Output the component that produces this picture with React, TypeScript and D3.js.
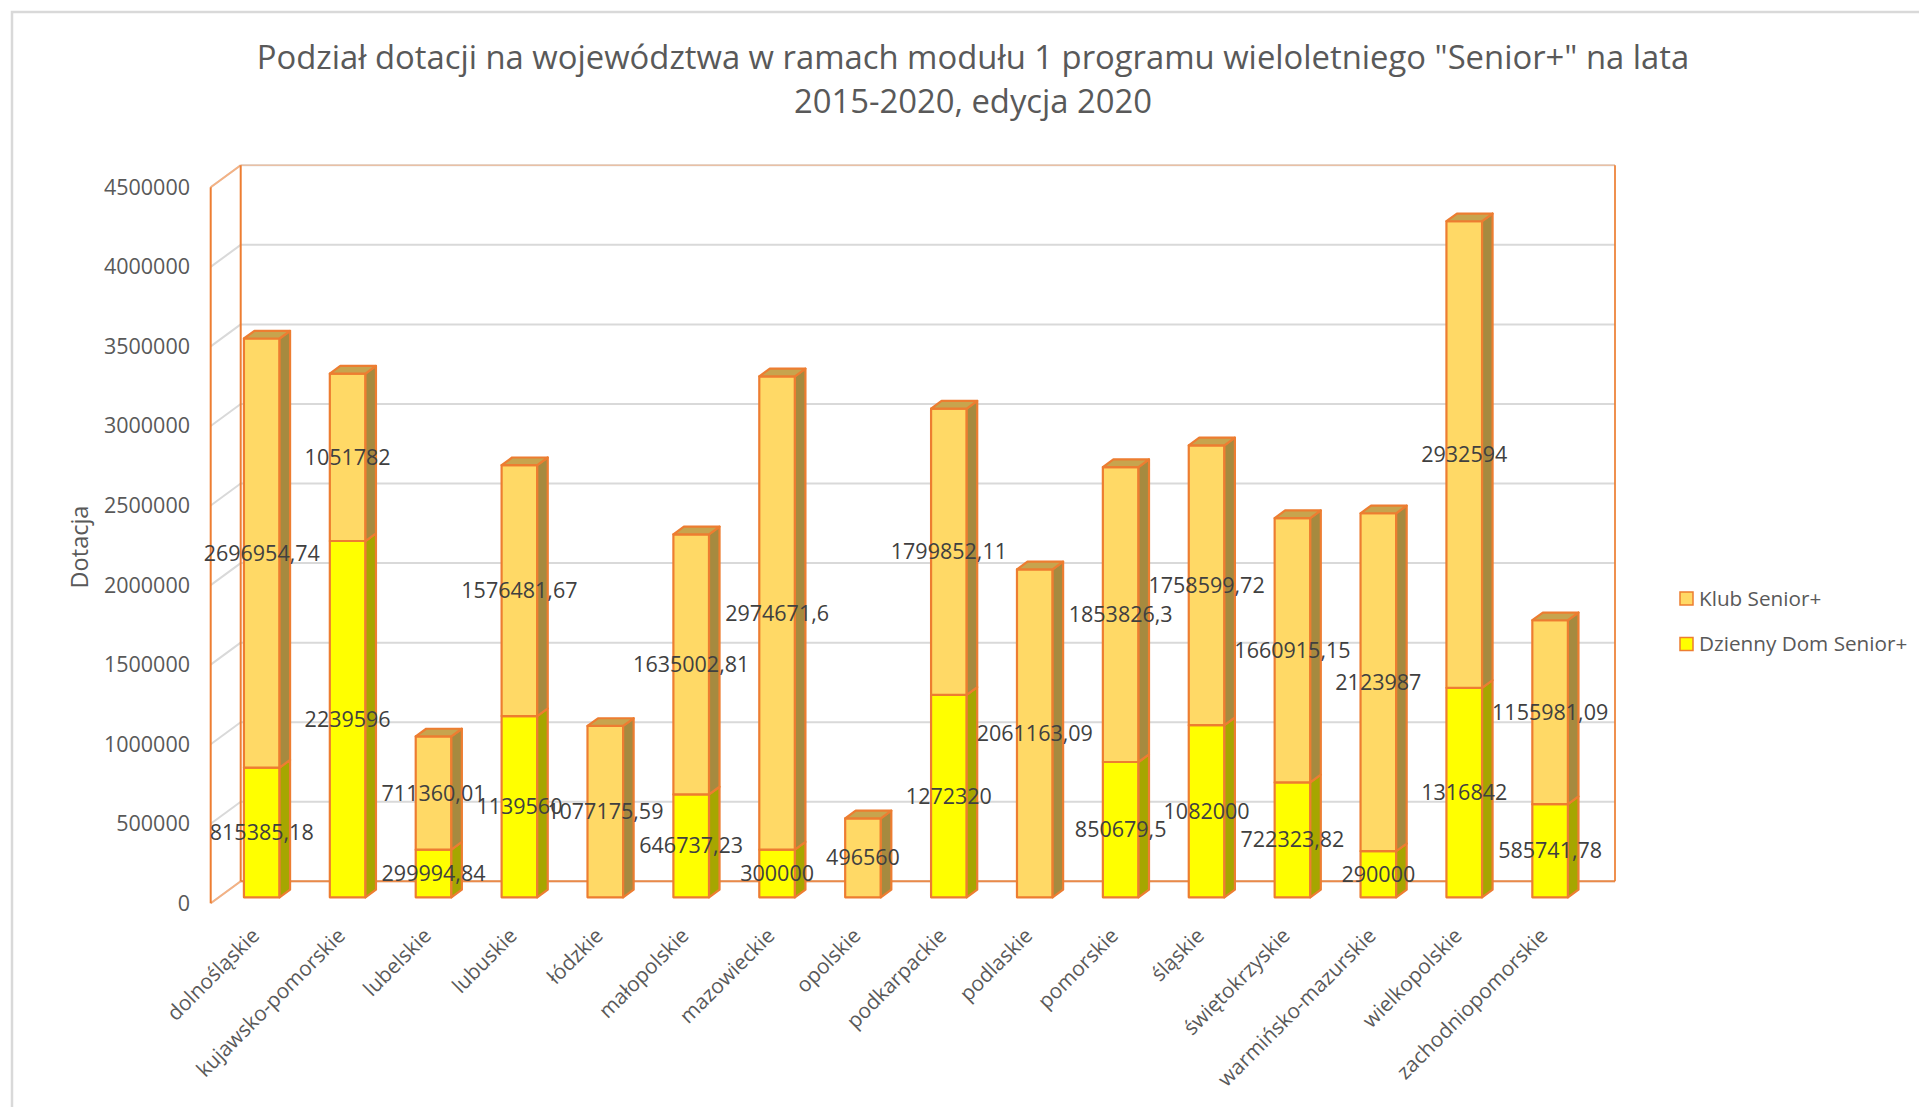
import React from "react";
import * as d3 from "d3";

const categories = [
  "dolnośląskie",
  "kujawsko-pomorskie",
  "lubelskie",
  "lubuskie",
  "łódzkie",
  "małopolskie",
  "mazowieckie",
  "opolskie",
  "podkarpackie",
  "podlaskie",
  "pomorskie",
  "śląskie",
  "świętokrzyskie",
  "warmińsko-mazurskie",
  "wielkopolskie",
  "zachodniopomorskie",
];

const dziennyDom = [
  815385.18, 2239596, 299994.84, 1139560, 0, 646737.23, 300000, 0, 1272320, 0,
  850679.5, 1082000, 722323.82, 290000, 1316842, 585741.78,
];

const klub = [
  2696954.74, 1051782, 711360.01, 1576481.67, 1077175.59, 1635002.81,
  2974671.6, 496560, 1799852.11, 2061163.09, 1853826.3, 1758599.72,
  1660915.15, 2123987, 2932594, 1155981.09,
];

const tickValues = [0, 500000, 1000000, 1500000, 2000000, 2500000, 3000000, 3500000, 4000000, 4500000];

const titleLines = [
  'Podział dotacji na województwa w ramach modułu 1 programu wieloletniego "Senior+" na lata',
  "2015-2020, edycja 2020",
];
const yAxisTitle = "Dotacja";
const legendItems = [
  { name: "Klub Senior+", key: "klub" },
  { name: "Dzienny Dom Senior+", key: "ddom" },
];

const W = 1919;
const H = 1107;
const X0 = 210.7;
const X1 = 1585;
const Y0 = 903.3;
const PH = 716;
const DX = 30;
const DY = -22;
const F0 = 0.27;
const F1 = 0.62;
const FONT = "'Open Sans', 'Noto Sans', sans-serif";
const ORANGE = "#ED7D31";
const GRID = "#D9D9D9";

const colors = {
  klub: { front: "#FFD966", side: "#A68A3F", top: "#C7A44E" },
  ddom: { front: "#FFFF00", side: "#A6A600", top: "#CCCC00" },
};

const fmt = (v: number) => String(v).replace(".", ",");

export default function App() {
  const x = d3.scaleBand<string>().domain(categories).range([X0, X1]).paddingInner(0).paddingOuter(0);
  const y = d3.scaleLinear().domain([0, 4500000]).range([Y0, Y0 - PH]);
  const bw = x.bandwidth() * 0.415;
  const sdx = DX * (F1 - F0);
  const sdy = DY * (F1 - F0);

  const segs: any[] = [];
  categories.forEach((c, i) => {
    const cx = (x(c) as number) + x.bandwidth() / 2 + DX * F0;
    const left = cx - bw / 2;
    const vals = [
      { key: "ddom", v0: 0, v1: dziennyDom[i], val: dziennyDom[i] },
      { key: "klub", v0: dziennyDom[i], v1: dziennyDom[i] + klub[i], val: klub[i] },
    ];
    vals.forEach((s, j) => {
      if (s.val <= 0) return;
      const yb = y(s.v0) + DY * F0;
      const yt = y(s.v1) + DY * F0;
      segs.push({ ...s, cat: c, i, j, left, cx, yb, yt, isTop: j === 1 || klub[i] === 0 });
    });
  });

  const labels: any[] = [];
  segs.forEach((s) => {
    labels.push({ x: s.cx, y: (s.yb + s.yt) / 2, text: fmt(s.val), k: `${s.cat}-${s.key}` });
  });

  const bx0 = X0 + DX;
  const bx1 = X1 + DX;

  return (
    <svg
      width={W}
      height={H}
      style={{ position: "absolute", left: 0, top: 0, display: "block", background: "#fff" }}
    >
      <rect x={12} y={12} width={W} height={H} fill="#fff" stroke={GRID} strokeWidth={2.5} />
      {titleLines.map((t, i) => (
        <text
          key={i}
          x={973}
          y={69 + i * 44}
          textAnchor="middle"
          fontFamily={FONT}
          fontSize={32.8}
          fill="#595959"
        >
          {t}
        </text>
      ))}

      {/* gridlines */}
      {tickValues.map((t) => (
        <g key={t}>
          <line x1={bx0} x2={bx1} y1={y(t) + DY} y2={y(t) + DY} stroke={GRID} strokeWidth={2} />
          <line x1={X0} x2={X0 + DX} y1={y(t)} y2={y(t) + DY} stroke={GRID} strokeWidth={2} />
        </g>
      ))}
      {/* walls edges */}
      <line x1={bx0} x2={bx1} y1={y(4500000) + DY} y2={y(4500000) + DY} stroke="#F4B183" strokeWidth={1.5} opacity={0.6} />
      <line x1={X0} x2={X0 + DX} y1={y(4500000)} y2={y(4500000) + DY} stroke="#F4B183" strokeWidth={2} />
      <line x1={X0} x2={X0 + DX} y1={y(0)} y2={y(0) + DY} stroke="#F4B183" strokeWidth={2} />
      <line x1={bx0} x2={bx0} y1={y(4500000) + DY} y2={y(0) + DY} stroke={ORANGE} strokeWidth={2} />
      <line x1={bx1} x2={bx1} y1={y(4500000) + DY} y2={y(0) + DY} stroke={ORANGE} strokeWidth={2} opacity={0.85} />
      <line x1={bx0} x2={bx1} y1={y(0) + DY} y2={y(0) + DY} stroke={ORANGE} strokeWidth={2} opacity={0.85} />
      <line x1={X0} x2={X0} y1={y(4500000)} y2={y(0)} stroke={ORANGE} strokeWidth={2} />

      {/* y tick labels */}
      {tickValues.map((t) => (
        <text
          key={"tl" + t}
          x={190}
          y={y(t)}
          dy="0.35em"
          textAnchor="end"
          fontFamily={FONT}
          fontSize={21.5}
          fill="#595959"
        >
          {t}
        </text>
      ))}
      <text
        transform={`translate(88,547) rotate(-90)`}
        textAnchor="middle"
        fontFamily={FONT}
        fontSize={23.5}
        fill="#595959"
      >
        {yAxisTitle}
      </text>

      {/* bars */}
      {segs.map((s) => {
        const c = (colors as any)[s.key];
        const l = s.left;
        const r = s.left + bw;
        return (
          <g key={s.cat + s.key} stroke={ORANGE} strokeWidth={2.2} strokeLinejoin="round">
            <rect x={l} y={s.yt} width={bw} height={s.yb - s.yt} fill={c.front} />
            <polygon
              points={`${r},${s.yt} ${r + sdx},${s.yt + sdy} ${r + sdx},${s.yb + sdy} ${r},${s.yb}`}
              fill={c.side}
            />
            {s.isTop && (
              <polygon
                points={`${l},${s.yt} ${l + sdx},${s.yt + sdy} ${r + sdx},${s.yt + sdy} ${r},${s.yt}`}
                fill={c.top}
              />
            )}
          </g>
        );
      })}

      {/* data labels */}
      {labels.map((lb) => (
        <text
          key={lb.k}
          x={lb.x}
          y={lb.y}
          dy="0.35em"
          textAnchor="middle"
          fontFamily={FONT}
          fontSize={21.5}
          fill="#404040"
        >
          {lb.text}
        </text>
      ))}

      {/* category labels */}
      {categories.map((c) => {
        const ax = (x(c) as number) + x.bandwidth() / 2 + 7;
        const ay = 937;
        return (
          <text
            key={"c" + c}
            transform={`translate(${ax},${ay}) rotate(-45)`}
            textAnchor="end"
            fontFamily={FONT}
            fontSize={20.8}
            fill="#595959"
          >
            {c}
          </text>
        );
      })}

      {/* legend */}
      {legendItems.map((it, i) => {
        const cy = 598.5 + i * 45.5;
        const c = (colors as any)[it.key];
        return (
          <g key={it.key}>
            <rect x={1680} y={cy - 6.5} width={13} height={13} fill={c.front} stroke={ORANGE} strokeWidth={1.5} />
            <text x={1699} y={cy} dy="0.35em" fontFamily={FONT} fontSize={20.7} fill="#595959">
              {it.name}
            </text>
          </g>
        );
      })}
    </svg>
  );
}
